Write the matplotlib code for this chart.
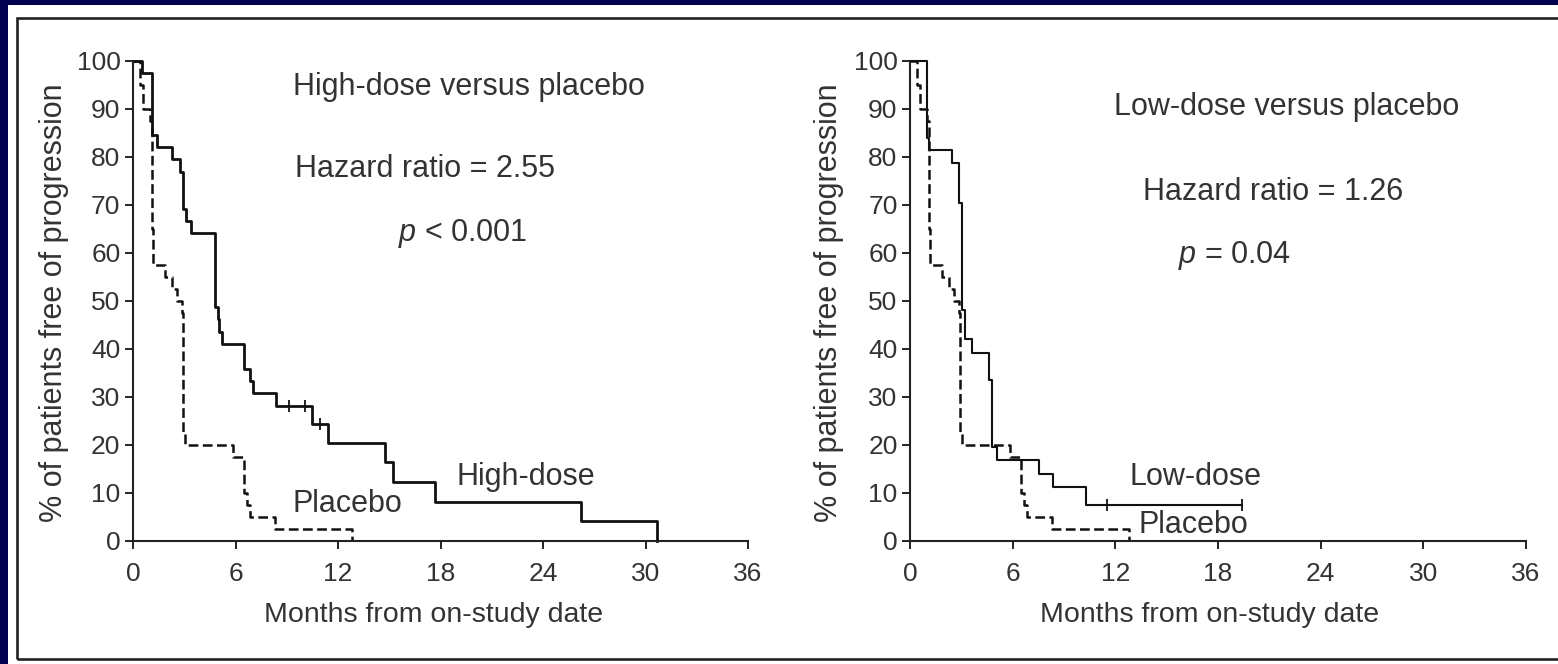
import matplotlib
matplotlib.use("Agg")
import matplotlib.pyplot as plt
from matplotlib.patches import Rectangle

plt.rcParams['font.family'] = ['Liberation Sans', 'DejaVu Sans']
plt.rcParams['mathtext.fontset'] = 'custom'
plt.rcParams['mathtext.rm'] = 'Liberation Sans'
plt.rcParams['mathtext.it'] = 'Liberation Sans:italic'
plt.rcParams['lines.scale_dashes'] = False

# ---------------- data ----------------
high_t = [0, 0.5, 1.09, 1.39, 2.26, 2.75, 2.9, 3.1, 3.38, 4.8, 4.95, 5.05, 5.2,
          6.5, 6.85, 7.05, 8.37, 10.5, 11.4, 14.75, 15.2, 17.7, 26.2, 30.7]
high_s = [100, 97.4, 84.6, 82.1, 79.5, 76.9, 69.2, 66.7, 64.1, 48.7, 46.2, 43.6, 41.0,
          35.9, 33.3, 30.8, 28.2, 24.4, 20.5, 16.4, 12.3, 8.2, 4.1, 0]
high_cens_t = [9.13, 10.07, 10.95]
high_cens_s = [28.2, 28.2, 24.4]

low_t = [0, 0.98, 1.13, 2.43, 2.88, 3.02, 3.2, 3.6, 4.64, 4.77, 5.07, 7.56, 8.38, 10.29, 19.4]
low_s = [100, 83.9, 81.5, 78.7, 70.4, 48.1, 42.0, 39.2, 33.5, 19.6, 16.8, 14.0, 11.2, 7.4, 7.4]
low_cens_t = [11.53, 19.4]
low_cens_s = [7.4, 7.4]

plac_t = [0, 0.41, 0.6, 1.0, 1.09, 1.17, 1.87, 2.26, 2.55, 2.84, 2.93, 3.05,
          5.87, 6.5, 6.66, 6.85, 8.3, 12.8]
plac_s = [100, 95, 90, 87.5, 65, 57.5, 55, 52.5, 50, 47.5, 22.5, 20,
          17.5, 10, 7.5, 5, 2.5, 0]

x_ticks = [0, 6, 12, 18, 24, 30, 36]
y_ticks = [0, 10, 20, 30, 40, 50, 60, 70, 80, 90, 100]

panels = [
    dict(curve_t=high_t, curve_s=high_s, cens_t=high_cens_t, cens_s=high_cens_s, lw=2.0,
         texts=[("High-dose versus placebo", 9.37, 92.9),
                ("Hazard ratio = 2.55", 9.48, 75.9),
                ("$p$ < 0.001", 15.53, 62.4),
                ("High-dose", 18.95, 11.67),
                ("Placebo", 9.35, 6.1)]),
    dict(curve_t=low_t, curve_s=low_s, cens_t=low_cens_t, cens_s=low_cens_s, lw=1.5,
         texts=[("Low-dose versus placebo", 11.92, 88.75),
                ("Hazard ratio = 1.26", 13.64, 71.0),
                ("$p$ = 0.04", 15.68, 58.0),
                ("Low-dose", 12.82, 11.67),
                ("Placebo", 13.34, 1.6)]),
]

# ---------------- figure ----------------
W, H = 1558, 664
fig = plt.figure(figsize=(W / 100, H / 100), dpi=100, facecolor='#00004f')

fig.patches.append(Rectangle((8 / W, -0.01), (W + 20 - 8) / W, (H - 5) / H + 0.01,
                             transform=fig.transFigure, fc='white', ec='none', zorder=-10))
fig.patches.append(Rectangle((17 / W, 5 / H), (W + 10 - 17) / W, (659 - 18) / H,
                             transform=fig.transFigure, fc='none', ec='#222222',
                             lw=1.9, zorder=-5, clip_on=False))

txt_col = '#333333'
line_col = '#111111'
ax_lefts = [133, 910]
ax_widths = [615, 616]

for i, p in enumerate(panels):
    ax = fig.add_axes([ax_lefts[i] / W, 1 - 541 / H, ax_widths[i] / W, 480 / H])
    ax.set_facecolor('none')
    ax.set_xlim(0, 36)
    ax.set_ylim(0, 100)
    for s in ['top', 'right']:
        ax.spines[s].set_visible(False)
    for s in ['left', 'bottom']:
        ax.spines[s].set_linewidth(1.5)
        ax.spines[s].set_color('#222222')
    ax.set_xticks(x_ticks)
    ax.set_yticks(y_ticks)
    ax.tick_params(direction='out', length=6, width=1.4, color='#222222',
                   labelsize=19, labelcolor=txt_col)
    ax.tick_params(axis='x', pad=9)
    ax.tick_params(axis='y', pad=3)

    ax.step(plac_t, plac_s, where='post', color=line_col, lw=1.8,
            dashes=(7, 3.2), clip_on=False)
    ax.step(p['curve_t'], p['curve_s'], where='post', color=line_col, lw=p['lw'],
            clip_on=False)
    ax.plot(p['cens_t'], p['cens_s'], ls='none', marker='|', ms=9, mew=1.3,
            color=line_col, clip_on=False)

    for (s, x, y) in p['texts']:
        ax.text(x, y, s, fontsize=22, color=txt_col, ha='left', va='baseline')

# axis labels
for cx, yl in [(434, 54), (1210, 829)]:
    fig.text(cx / W, 1 - 622 / H, "Months from on-study date", fontsize=20.5,
             color=txt_col, ha='center', va='baseline')
    fig.text(yl / W, 1 - 303 / H, "% of patients free of progression", fontsize=22,
             color=txt_col, ha='center', va='center', rotation=90)

fig.savefig('out.png', dpi=100, facecolor=fig.get_facecolor())
